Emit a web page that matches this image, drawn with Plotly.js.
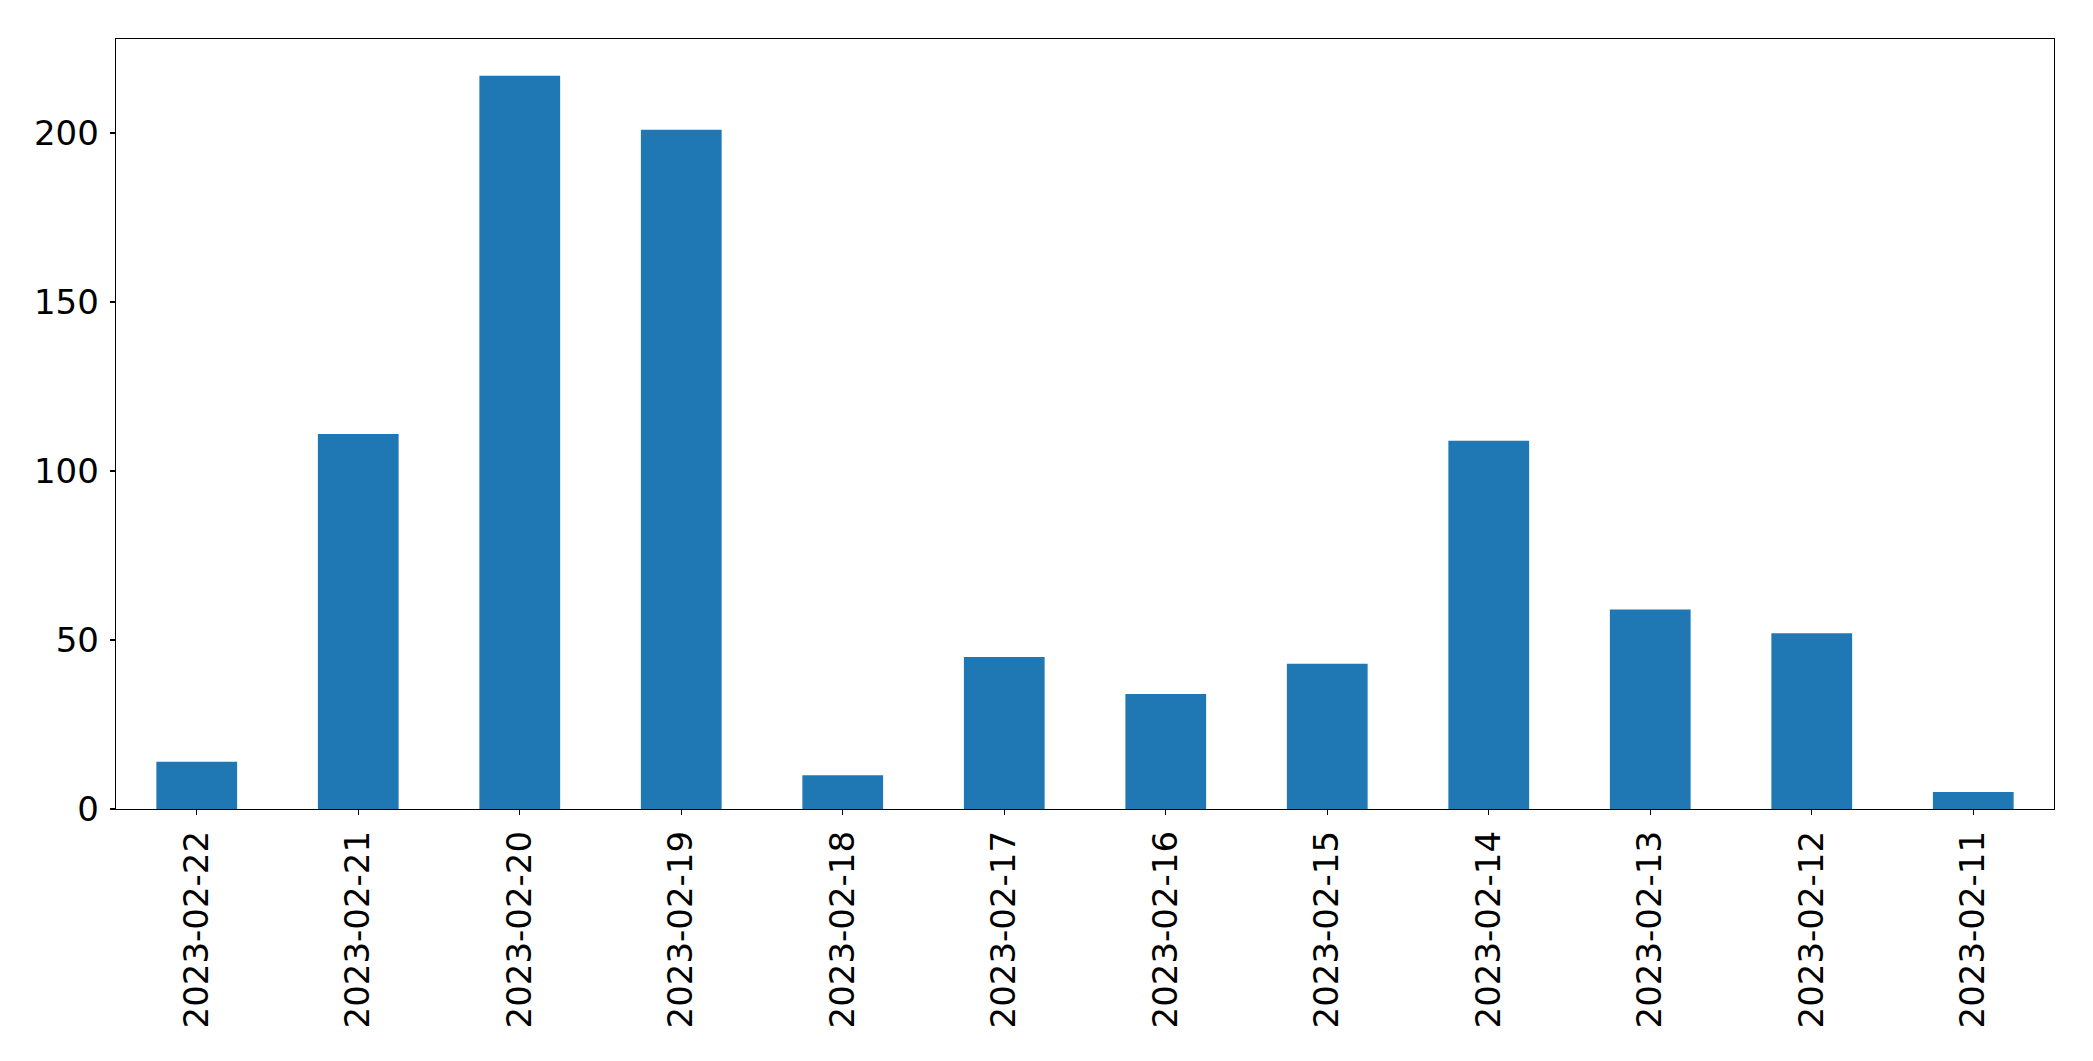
<!DOCTYPE html>
<html>
<head>
<meta charset="utf-8">
<script src="https://cdn.plot.ly/plotly-3.0.1.min.js"></script>
<style>html,body{margin:0;padding:0;background:#fff;}#chart{width:2093px;height:1061px;}</style>
</head>
<body>
<div id="chart"></div>
<script>
const dates = ["2023-02-22","2023-02-21","2023-02-20","2023-02-19","2023-02-18","2023-02-17","2023-02-16","2023-02-15","2023-02-14","2023-02-13","2023-02-12","2023-02-11"];
const counts = [14, 111, 217, 201, 10, 45, 34, 43, 109, 59, 52, 5];
const yTicks = [0, 50, 100, 150, 200];

const font = {family: "DejaVu Sans", size: 34, color: "#000"};
const maxVal = Math.max(...counts);

Plotly.newPlot("chart", [{
  type: "bar",
  x: dates,
  y: counts,
  width: 0.5,
  marker: {color: "#1f77b4", line: {width: 0}},
  hoverinfo: "x+y"
}], {
  width: 2093,
  height: 1061,
  margin: {l: 116, r: 39, t: 39, b: 252, pad: 0},
  paper_bgcolor: "#fff",
  plot_bgcolor: "#fff",
  showlegend: false,
  font: font,
  xaxis: {
    type: "category",
    range: [-0.5, dates.length - 0.5],
    tickangle: -90,
    tickfont: font,
    ticks: "outside",
    ticklen: 5,
    tickwidth: 1.3,
    tickcolor: "#000",
    ticklabelstandoff: 2,
    showline: true,
    linecolor: "#000",
    linewidth: 1.3,
    mirror: true,
    showgrid: false,
    zeroline: false
  },
  yaxis: {
    range: [0, maxVal * 1.05],
    tickvals: yTicks,
    ticktext: yTicks.map(String),
    tickfont: font,
    ticks: "outside",
    ticklen: 5,
    tickwidth: 1.3,
    tickcolor: "#000",
    ticklabelstandoff: 4,
    showline: true,
    linecolor: "#000",
    linewidth: 1.3,
    mirror: true,
    showgrid: false,
    zeroline: false
  }
}, {displayModeBar: false, staticPlot: true});
</script>
</body>
</html>
